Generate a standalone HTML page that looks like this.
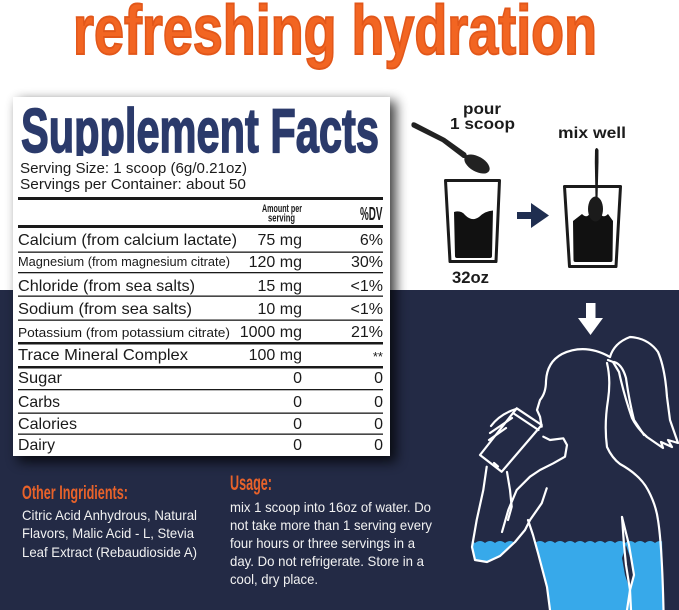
<!DOCTYPE html>
<html><head><meta charset="utf-8"><style>
html,body{margin:0;padding:0;background:#fff;}
svg{display:block;}
</style></head><body>
<svg width="679" height="610" viewBox="0 0 679 610" xmlns="http://www.w3.org/2000/svg" font-family="'Liberation Sans', Arial, sans-serif">
<defs>
<filter id="sh" x="-20%" y="-20%" width="140%" height="140%"><feGaussianBlur stdDeviation="6"/></filter>
<clipPath id="tclip"><rect x="0" y="90" width="400" height="66"/></clipPath>
<clipPath id="wclip">
<polygon points="472,538 518,538 515,542 500,556 487,562 475,560 471.5,547"/>
<polygon points="531,538 662,538 663.5,610 550,610 547,587 538,553 533,535"/>
</clipPath>
</defs>
<rect x="0" y="0" width="679" height="610" fill="#ffffff"/>
<rect x="0" y="290" width="679" height="320" fill="#232a45"/>

<!-- title -->
<text transform="translate(73,54) scale(1,1.29)" x="0" y="0" font-size="54" font-weight="bold" fill="#f26522" stroke="#e2571a" stroke-width="1.5" textLength="524" lengthAdjust="spacingAndGlyphs">refreshing hydration</text>

<!-- table shadow + box -->
<rect x="18" y="101" width="378" height="361" fill="#000" opacity="0.75" filter="url(#sh)"/>
<rect x="13" y="97" width="377" height="359" fill="#ffffff"/>

<g clip-path="url(#tclip)">
<text transform="translate(21,152) scale(1,1.48)" x="0" y="0" font-size="42" font-weight="bold" fill="#2b3a6b" stroke="#2b3a6b" stroke-width="1.1" textLength="358" lengthAdjust="spacingAndGlyphs">Supplement Facts</text>
</g>
<g fill="#1c1c1c">
<text x="20" y="173" font-size="15" textLength="227" lengthAdjust="spacingAndGlyphs">Serving Size: 1 scoop (6g/0.21oz)</text>
<text x="20" y="189" font-size="15" textLength="226" lengthAdjust="spacingAndGlyphs">Servings per Container: about 50</text>
</g>

<g fill="#1a1a1a">
<rect x="18" y="197" width="365" height="3"/>
<rect x="18" y="225" width="365" height="3"/>
<rect x="18" y="251.5" width="365" height="1.3"/>
<rect x="18" y="272" width="365" height="1.3"/>
<rect x="18" y="295.5" width="365" height="1.3"/>
<rect x="18" y="319.5" width="365" height="1.3"/>
<rect x="18" y="342" width="365" height="2.5"/>
<rect x="18" y="366" width="365" height="2.5"/>
<rect x="18" y="389" width="365" height="1.3"/>
<rect x="18" y="412.5" width="365" height="1.3"/>
<rect x="18" y="433.5" width="365" height="1.3"/>
</g>

<g fill="#1a1a1a">
<text transform="translate(262,212) scale(1,1.25)" font-size="9" font-weight="bold" textLength="40" lengthAdjust="spacingAndGlyphs">Amount per</text>
<text transform="translate(268,221.5) scale(1,1.25)" font-size="9" font-weight="bold" textLength="27" lengthAdjust="spacingAndGlyphs">serving</text>
<text transform="translate(360,220) scale(1,1.4)" font-size="13" font-weight="bold" textLength="22.5" lengthAdjust="spacingAndGlyphs">%DV</text>

<text x="18" y="245" font-size="16" textLength="219" lengthAdjust="spacingAndGlyphs">Calcium (from calcium lactate)</text>
<text x="18" y="266" font-size="12.8" textLength="212" lengthAdjust="spacingAndGlyphs">Magnesium (from magnesium citrate)</text>
<text x="18" y="291" font-size="16" textLength="177" lengthAdjust="spacingAndGlyphs">Chloride (from sea salts)</text>
<text x="18" y="314" font-size="16" textLength="174" lengthAdjust="spacingAndGlyphs">Sodium (from sea salts)</text>
<text x="18" y="337" font-size="13" textLength="212" lengthAdjust="spacingAndGlyphs">Potassium (from potassium citrate)</text>
<text x="18" y="360" font-size="16" textLength="170" lengthAdjust="spacingAndGlyphs">Trace Mineral Complex</text>
<text x="18" y="383" font-size="16" textLength="44" lengthAdjust="spacingAndGlyphs">Sugar</text>
<text x="18" y="407" font-size="16" textLength="42" lengthAdjust="spacingAndGlyphs">Carbs</text>
<text x="18" y="429" font-size="16" textLength="59" lengthAdjust="spacingAndGlyphs">Calories</text>
<text x="18" y="450" font-size="16" textLength="37" lengthAdjust="spacingAndGlyphs">Dairy</text>

<g font-size="16" text-anchor="end">
<text x="302" y="245">75 mg</text>
<text x="302" y="267">120 mg</text>
<text x="302" y="291">15 mg</text>
<text x="302" y="314">10 mg</text>
<text x="302" y="337">1000 mg</text>
<text x="302" y="360">100 mg</text>
<text x="302" y="383">0</text>
<text x="302" y="407">0</text>
<text x="302" y="429">0</text>
<text x="302" y="450">0</text>

<text x="383" y="245">6%</text>
<text x="383" y="267">30%</text>
<text x="383" y="291">&lt;1%</text>
<text x="383" y="314">&lt;1%</text>
<text x="383" y="337">21%</text>
<text x="383" y="361" font-size="13">**</text>
<text x="383" y="383">0</text>
<text x="383" y="407">0</text>
<text x="383" y="429">0</text>
<text x="383" y="450">0</text>
</g>
</g>

<!-- right top illustrations -->
<g fill="#1b1b1b" font-weight="bold">
<text x="463" y="114" font-size="16" textLength="38" lengthAdjust="spacingAndGlyphs">pour</text>
<text x="450" y="129" font-size="16" textLength="65" lengthAdjust="spacingAndGlyphs">1 scoop</text>
<text x="558" y="138" font-size="16" textLength="68" lengthAdjust="spacingAndGlyphs">mix well</text>
<text x="452" y="283" font-size="17" textLength="37" lengthAdjust="spacingAndGlyphs">32oz</text>
</g>
<!-- spoon 1 -->
<g fill="#222">
<path d="M411.5,124 Q412,121.5 415,122.5 L445,138 L466,153 L468,158 L463,158 L442,142 L413,127.5 Q411,126.5 411.5,124 Z"/>
<ellipse cx="477" cy="164" rx="14" ry="7.5" transform="rotate(30 477 164)"/>
</g>
<!-- glass 1 -->
<path d="M445.5,180.5 L499.5,180.5 L496,261.5 L450,261.5 Z" fill="none" stroke="#1b1b1b" stroke-width="3" stroke-linejoin="round"/>
<path d="M454,212 Q461,210 465,215 Q472,222 479,217 Q485,211 493,210.5 L492,256 Q492,258 490,258 L457,258 Q455,258 455,256 Z" fill="#111"/>
<!-- arrow -->
<rect x="517" y="212" width="17" height="7" fill="#1f2e50"/>
<polygon points="531,203 549,215.5 531,228" fill="#1f2e50"/>
<!-- glass 2 -->
<path d="M564.5,186.5 L620.5,186.5 L616,266.5 L569.5,266.5 Z" fill="none" stroke="#1b1b1b" stroke-width="3" stroke-linejoin="round"/>
<path d="M573,221 L582,214 Q587,219 590,213 L600,213 Q603,219 608,214 L613,221 L612.5,260 Q612.5,262 610.5,262 L575.5,262 Q573.5,262 573.5,260 Z" fill="#111"/>
<g fill="#1b1b1b">
<path d="M595,150 Q596.5,146 598.5,150 L598.5,162 L597.5,200 L595.5,200 L594.8,162 Z"/>
<ellipse cx="595.5" cy="209" rx="7.5" ry="12.5"/>
</g>

<!-- white down arrow -->
<rect x="586" y="303" width="9.5" height="16" fill="#fff"/>
<polygon points="578,318 603,318 590.5,335" fill="#fff"/>

<!-- water -->
<g clip-path="url(#wclip)">
<path d="M465,543 q5,-4 10,0 q5,-4 10,0 q5,-4 10,0 q5,-4 10,0 q5,-4 10,0 q5,-4 10,0 q5,-4 10,0 q5,-4 10,0 q5,-4 10,0 q5,-4 10,0 q5,-4 10,0 q5,-4 10,0 q5,-4 10,0 q5,-4 10,0 q5,-4 10,0 q5,-4 10,0 q5,-4 10,0 q5,-4 10,0 q5,-4 10,0 q5,-4 10,0 q5,-4 10,0 L680,610 L465,610 Z" fill="#37a9ea"/>
</g>
<polygon points="626,545 631,560 634,578 630,590 625,575 622,558" fill="#232a45"/>

<!-- woman outline -->
<g fill="none" stroke="#fff" stroke-width="2.2" stroke-linejoin="round" stroke-linecap="round">
<path d="M541.7,426.7 L540,416.7 L537,410 L540,400 Q546,393 546,381 Q547,362 562,354 Q585,343 610,357"/>
<path d="M607,363 Q611,380 608,400 Q604,425 607,447 Q612,458 620,464 Q640,475 648,490 Q656,505 658,520 Q662,545 663.5,610"/>
<path d="M610,357 Q614,343 630,337 Q648,338 658,352 Q665,368 667,397 L670,420 L678,443 L668,440 L672,447 L661,442 L663,448 L647,437 Q637,428 632,418 Q624,395 619,372 L613,362 L608,360"/>
<path d="M614,362 Q622,364 626,378 Q629,400 634,420 L644,435"/>
<polygon points="516.7,408.3 541.7,425 501.7,471.7 480,455"/>
<path d="M513,413 L538.5,430"/>
<path d="M491,426 Q500,414 516,409 M490,433 L512,418 M489,440 L506,428"/>
<path d="M494,463 L498,466.5"/>
<path d="M543.3,436.7 L550,440 L563.3,438.3 L567,445 L565,456.7 L553.3,463.3 L540,470 L530,476.7 L516.7,490 L508.3,510 L502,532"/>
<path d="M486.7,466.7 L483.3,490 L476.7,520 L472,547 L475,560 L487,562 L500,556 L515,542 L525,530 L530,520 L541.7,503.3 L546.7,488.3"/>
<path d="M507,472 L510,490 L511.7,506.7 L508,520"/>
<path d="M528,520 L533,535 L538,553 L547,587 L550,610"/>
<path d="M622,517 L624,545 L626,565 L630,590 L631,610"/>
<path d="M622,517 L629,545 L634,575 L630,590 L627,610"/>
</g>

<!-- bottom text -->
<g fill="#e8622a" font-weight="bold">
<text transform="translate(22,499) scale(1,1.22)" font-size="16" textLength="106" lengthAdjust="spacingAndGlyphs">Other Ingridients:</text>
<text transform="translate(230,490) scale(1,1.3)" font-size="16" textLength="42" lengthAdjust="spacingAndGlyphs">Usage:</text>
</g>
<g fill="#f2f2f2" font-size="14">
<text x="22" y="520" textLength="175" lengthAdjust="spacingAndGlyphs">Citric Acid Anhydrous, Natural</text>
<text x="22" y="538" textLength="172" lengthAdjust="spacingAndGlyphs">Flavors, Malic Acid - L, Stevia</text>
<text x="22" y="557" textLength="175" lengthAdjust="spacingAndGlyphs">Leaf Extract (Rebaudioside A)</text>
<text x="230" y="512" textLength="201" lengthAdjust="spacingAndGlyphs">mix 1 scoop into 16oz of water. Do</text>
<text x="230" y="530" textLength="202" lengthAdjust="spacingAndGlyphs">not take more than 1 serving every</text>
<text x="230" y="548" textLength="185" lengthAdjust="spacingAndGlyphs">four hours or three servings in a</text>
<text x="230" y="566" textLength="194" lengthAdjust="spacingAndGlyphs">day. Do not refrigerate. Store in a</text>
<text x="230" y="584" textLength="88" lengthAdjust="spacingAndGlyphs">cool, dry place.</text>
</g>
</svg>
</body></html>
